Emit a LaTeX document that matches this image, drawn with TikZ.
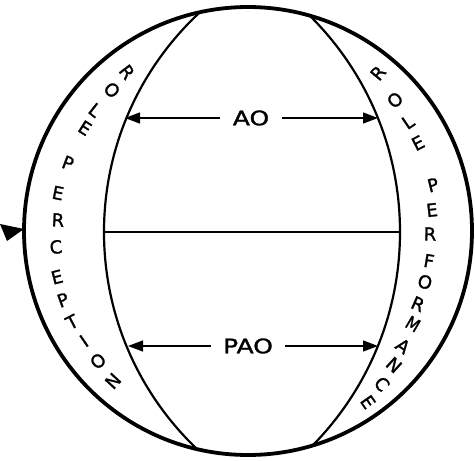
\documentclass[tikz,border=0pt]{standalone}
\usepackage{fontspec}
\setmainfont{DejaVu Sans}
\newfontfamily\handfont[FakeBold=1.4]{DejaVu Sans}
\usetikzlibrary{arrows.meta}
\begin{document}
\begin{tikzpicture}[x=1pt,y=-1pt,
  outerring/.style={line width=3.8pt},
  innerarc/.style={line width=2.2pt},
  divider/.style={line width=1.6pt},
  dimarrow/.style={line width=1.3pt,-{Triangle[length=15pt,width=11pt]}},
  lbl/.style={font=\handfont\fontsize{20}{20}\selectfont,xscale=1.25,inner sep=0pt,outer xsep=10pt},
  ch/.style={font=\handfont\fontsize{18}{18}\selectfont,inner sep=0pt}]
\useasboundingbox (0,0) rectangle (475,461);
% inner arcs clipped to the outer circle
\begin{scope}
  \clip (248,231) circle[radius=224];
  \draw[innerarc] (403.7,232) circle[radius=299.7];
  \draw[innerarc] (95.6,232) circle[radius=304.4];
\end{scope}
\draw[outerring] (248,231) circle[radius=224];
% horizontal divider
\coordinate (hL) at (104,232);
\coordinate (hR) at (400,232);
\draw[divider] (hL) -- (hR);
% AO and PAO
\node[lbl] (ao) at (251,118) {AO};
\node[lbl] (pao) at (248,346) {PAO};
\coordinate (aoL) at (125,118);
\coordinate (aoR) at (378,118);
\coordinate (paoL) at (128,346);
\coordinate (paoR) at (378,346);
\draw[dimarrow] (ao.west) -- (aoL);
\draw[dimarrow] (ao.east) -- (aoR);
\draw[dimarrow] (pao.west) -- (paoL);
\draw[dimarrow] (pao.east) -- (paoR);
% small arrowhead at left
\fill (0,224) -- (24,229) -- (7,241) -- cycle;
% ROLE PERCEPTION
\node[ch,rotate=-52.7] (l1) at (127,72) {R};
\node[ch,rotate=-46.0] (l2) at (112,90) {O};
\node[ch,rotate=-38.3] (l3) at (95,110) {L};
\node[ch,rotate=-32.3] (l4) at (85,128) {E};
\node[ch,rotate=-20.7] (l5) at (68,163) {P};
\node[ch,rotate=-11.3] (l6) at (58,193) {E};
\node[ch,rotate=-3.3] (l7) at (58,220) {R};
\node[ch,rotate=5.1] (l8) at (56,247) {C};
\node[ch,rotate=14.5] (l9) at (57,277) {E};
\node[ch,rotate=19.8] (l10) at (63,300) {P};
\node[ch,rotate=27.3] (l11) at (72,322) {T};
\node[ch,rotate=34.5] (l12) at (84,341) {I};
\node[ch,rotate=40.5] (l13) at (98,361) {O};
\node[ch,rotate=47.6] (l14) at (113,381) {N};
% ROLE PERFORMANCE
\node[ch,rotate=50.6] (r1) at (378,73) {R};
\node[ch,rotate=41.7] (r2) at (395,100) {O};
\node[ch,rotate=34.3] (r3) at (408,122) {L};
\node[ch,rotate=27.4] (r4) at (418,143) {E};
\node[ch,rotate=14.0] (r5) at (433,185) {P};
\node[ch,rotate=6.5] (r6) at (432,210) {E};
\node[ch,rotate=-0.9] (r7) at (430,234) {R};
\node[ch,rotate=-9.4] (r8) at (429,261) {F};
\node[ch,rotate=-16.1] (r9) at (425,282) {O};
\node[ch,rotate=-23.5] (r10) at (418,304) {R};
\node[ch,rotate=-30.3,xscale=0.85] (r11) at (413,324) {M};
\node[ch,rotate=-36.8] (r12) at (403,346) {A};
\node[ch,rotate=-41.9] (r13) at (394,365) {N};
\node[ch,rotate=-48.6] (r14) at (382,384) {C};
\node[ch,rotate=-54.9] (r15) at (368,402) {E};
\end{tikzpicture}
\end{document}
